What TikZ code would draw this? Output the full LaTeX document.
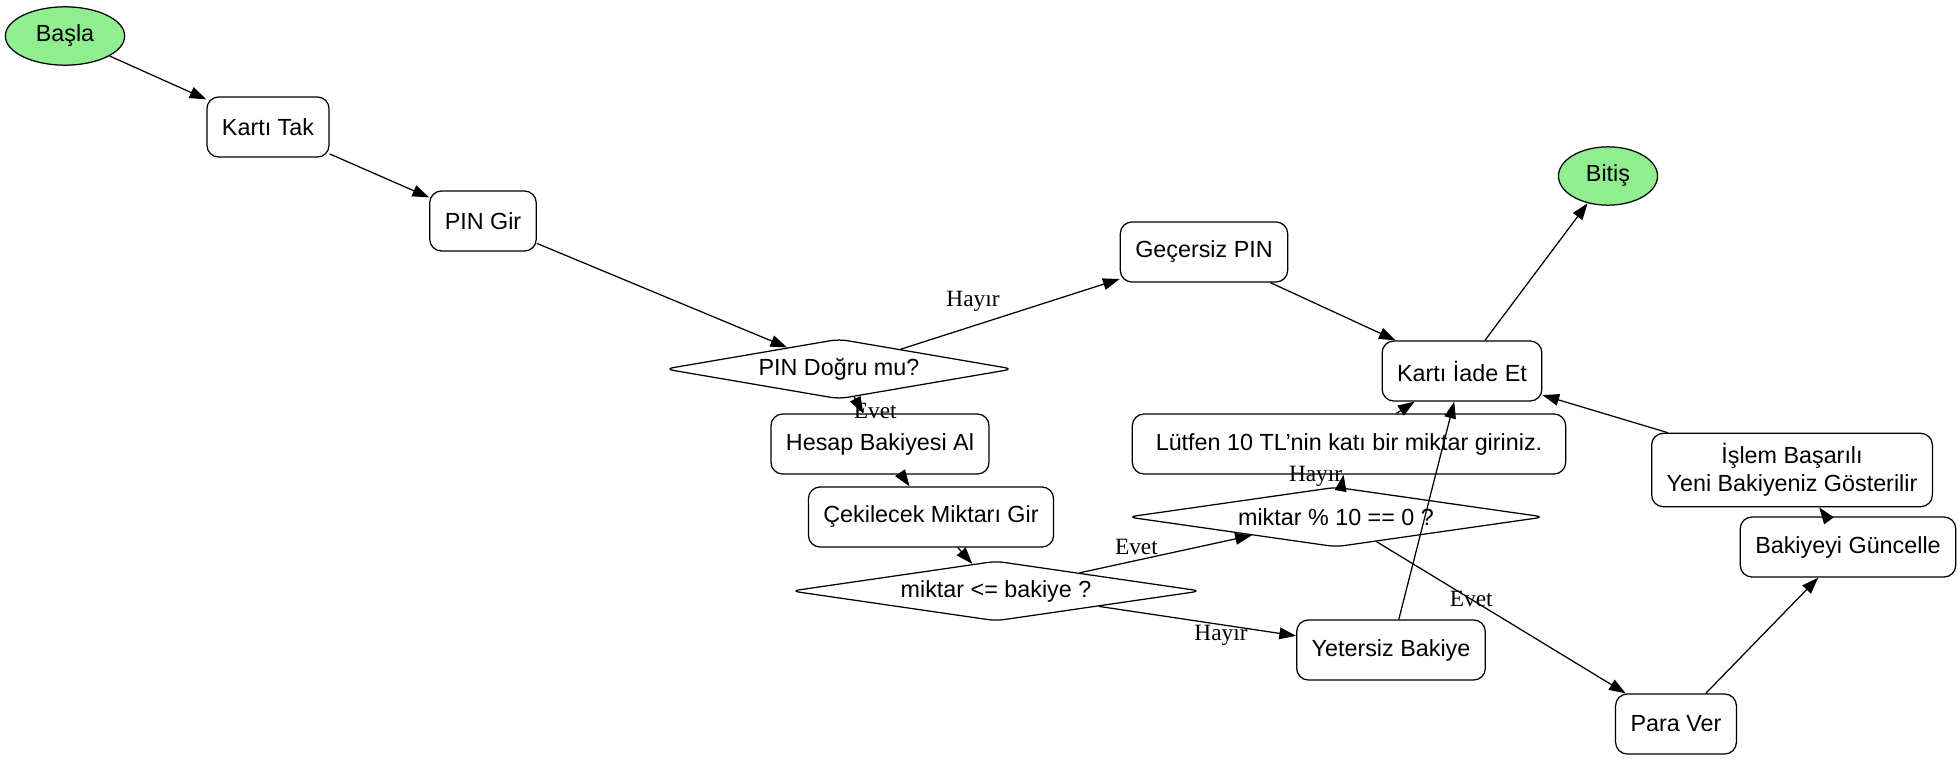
\documentclass[tikz,border=0pt]{standalone}
\usepackage{fontspec}
\setmainfont{Liberation Sans}
\newfontfamily\labelfont{Liberation Serif}
\usepackage{xcolor}
\usepackage{tikz}
\usetikzlibrary{arrows.meta,shapes}
\definecolor{lightgreen}{HTML}{90EE90}
\tikzset{% 
  start stop/.style={%
    ellipse,
    draw,
    fill=lightgreen,
    font=\fontsize{14}{17}\selectfont,
    minimum height=35pt,
    inner xsep=7.8pt,
    inner ysep=0pt
  }
}
\tikzset{% 
  process box/.style={%
    rectangle,
    draw,
    rounded corners=7pt,
    align=center,
    font=\fontsize{14}{17}\selectfont,
    minimum height=36pt,
    inner xsep=9pt,
    inner ysep=6pt
  }
}
\tikzset{% 
  decision/.style={%
    diamond,
    draw,
    aspect=8,
    rounded corners=5pt,
    font=\fontsize{14}{17}\selectfont,
    minimum height=36pt,
    inner sep=0pt
  }
}
\tikzset{% 
  flow/.style={%
    -{Triangle[length=10pt,width=7pt]}
  }
}
\tikzset{% 
  edge label/.style={%
    font=\labelfont\fontsize{14}{17}\selectfont
  }
}

\begin{document}
\begin{tikzpicture}[x=0.6pt, y=-0.6pt, line width=0.75pt]
  \useasboundingbox (0, 0) rectangle (1960, 761);
  \node [start stop] (start) at (65, 36) {Başla};
  \node [process box] (card) at (268, 127) {Kartı Tak};
  \node [process box] (pin) at (483, 221) {PIN Gir};
  \node [decision, minimum width=209pt] (pinok) at (839, 369) {PIN Doğru mu?};
  \node [process box] (badpin) at (1204, 252) {Geçersiz PIN};
  \node [start stop] (stop) at (1608, 176) {Bitiş};
  \node [process box] (eject) at (1462, 371) {Kartı İade Et};
  \node [process box] (bal) at (880, 444) {Hesap Bakiyesi Al};
  \node [process box] (amt) at (931, 517) {Çekilecek Miktarı Gir};
  \node [decision, minimum width=246pt] (enough) at (996, 591) {miktar <= bakiye ?};
  \node [process box, minimum width=260pt] (warn) at (1349, 444) {Lütfen 10 TL’nin katı bir miktar giriniz.};
  \node [decision, minimum width=250pt] (mod) at (1336, 517) {miktar \% 10 == 0 ?};
  \node [process box] (short) at (1391, 650) {Yetersiz Bakiye};
  \node [process box] (done) at (1792, 470) {İşlem Başarılı\\Yeni Bakiyeniz Gösterilir};
  \node [process box] (upd) at (1848, 547) {Bakiyeyi Güncelle};
  \node [process box] (pay) at (1676, 724) {Para Ver};
  \draw [flow] (start) -- (card);
  \draw [flow] (card) -- (pin);
  \draw [flow] (pin) -- (pinok);
  \draw [flow] (pinok) -- node [edge label, pos=0.33, above=5pt] {Hayır} (badpin);
  \draw [flow] (pinok) -- node [edge label, pos=0.85, xshift=8pt] {Evet} (bal);
  \draw [flow] (badpin) -- (eject);
  \draw [flow] (eject) -- (stop);
  \draw [flow] (bal) -- (amt);
  \draw [flow] (amt) -- (enough);
  \draw [flow] (enough) -- node [edge label, pos=0.33, above] {Evet} (mod);
  \draw [flow] (enough) -- node [edge label, pos=0.62, below, inner sep=0pt] {Hayır} (short);
  \draw [flow] (mod) -- node [edge label, pos=0.9, left=-3pt] {Hayır} (warn);
  \draw [flow] (mod) -- node [edge label, pos=0.38] {Evet} (pay);
  \draw [flow] (short) -- (eject);
  \draw [flow] (warn) -- (eject);
  \draw [flow] (pay) -- (upd);
  \draw [flow] (upd) -- (done);
  \draw [flow] (done) -- (eject);
\end{tikzpicture}
\end{document}
